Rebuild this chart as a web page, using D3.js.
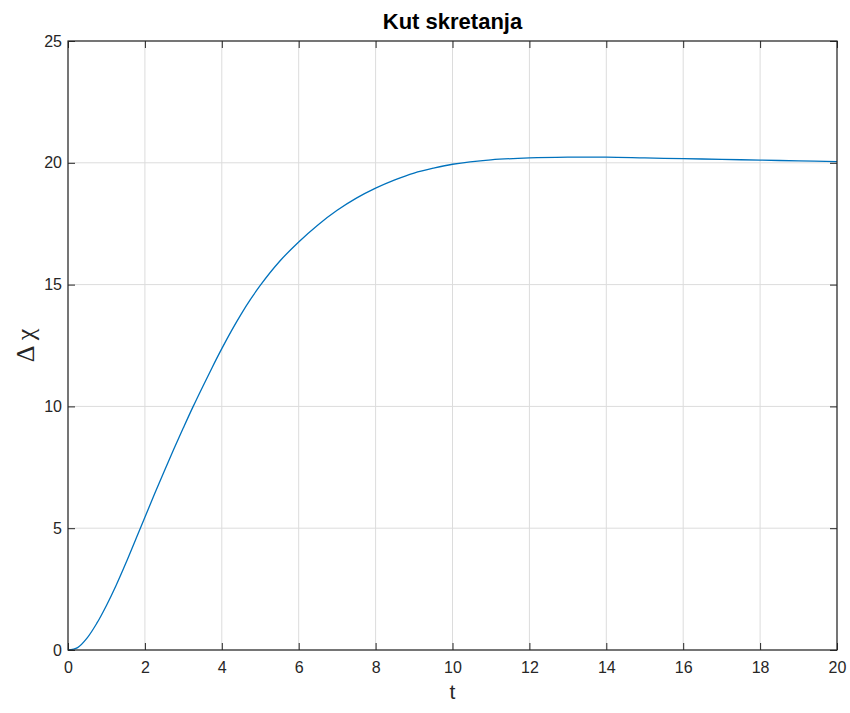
<!DOCTYPE html>
<html><head><meta charset="utf-8">
<script src="https://cdn.jsdelivr.net/npm/d3@7"></script>
<style>body{margin:0;background:#fff}svg{display:block}</style>
</head><body>
<svg id="chart" width="850" height="713"></svg>
<script>
const title = "Kut skretanja";
const xLabel = "t";
const yLabel = "Δ χ";
const xTicks = [0,2,4,6,8,10,12,14,16,18,20];
const yTicks = [0,5,10,15,20,25];
const tValues = [0,0.25,0.5,0.75,1.0,1.25,1.5,1.75,2.0,2.25,2.5,2.75,3.0,3.25,3.5,3.75,4.0,4.25,4.5,4.75,5.0,5.5,6.0,6.5,7.0,7.5,8.0,8.5,9.0,9.5,10,11,12,13,14,15,16,17,18,19,20];
const chiValues = [0,0.1,0.5,1.1,1.83,2.65,3.55,4.5,5.45,6.4,7.33,8.24,9.12,9.98,10.8,11.6,12.37,13.1,13.78,14.4,14.97,15.95,16.75,17.45,18.05,18.55,18.96,19.3,19.58,19.78,19.94,20.12,20.2,20.23,20.23,20.2,20.17,20.14,20.11,20.08,20.05];

const svg = d3.select("#chart");
const L = 68, R = 837, T = 41, B = 650;
const x = d3.scaleLinear().domain([0,20]).range([L,R]);
const y = d3.scaleLinear().domain([0,25]).range([B,T]);
const axisCol = "#262626", gridCol = "#dcdcdc", font = "'Liberation Sans', Arial, sans-serif";

// grid
svg.append("g").selectAll("line").data(xTicks).join("line")
  .attr("x1", d=>x(d)).attr("x2", d=>x(d)).attr("y1", T).attr("y2", B)
  .attr("stroke", gridCol).attr("stroke-width", 1);
svg.append("g").selectAll("line").data(yTicks).join("line")
  .attr("y1", d=>y(d)).attr("y2", d=>y(d)).attr("x1", L).attr("x2", R)
  .attr("stroke", gridCol).attr("stroke-width", 1);

// data line
const data = tValues.map((t,i)=>({t, v: chiValues[i]}));
svg.append("path").datum(data)
  .attr("fill","none").attr("stroke","#0072BD").attr("stroke-width",1.3)
  .attr("d", d3.line().x(d=>x(d.t)).y(d=>y(d.v)).curve(d3.curveCatmullRom.alpha(0.5)));

// axes
function styleAxis(g){
  g.select(".domain").remove();
  g.selectAll(".tick line").attr("stroke", axisCol).attr("stroke-width",1);
  g.selectAll(".tick text").attr("fill", axisCol).attr("font-family", font).attr("font-size", 16);
}
svg.append("g").attr("transform",`translate(0,${B})`)
  .call(d3.axisBottom(x).tickValues(xTicks).tickFormat(d3.format("d")).tickSizeInner(-7).tickSizeOuter(0).tickPadding(12))
  .call(styleAxis);
svg.append("g").attr("transform",`translate(0,${T})`)
  .call(d3.axisTop(x).tickValues(xTicks).tickFormat("").tickSizeInner(-7).tickSizeOuter(0))
  .call(styleAxis);
svg.append("g").attr("transform",`translate(${L},0)`)
  .call(d3.axisLeft(y).tickValues(yTicks).tickFormat(d3.format("d")).tickSizeInner(-7).tickSizeOuter(0).tickPadding(6))
  .call(styleAxis);
svg.append("g").attr("transform",`translate(${R},0)`)
  .call(d3.axisRight(y).tickValues(yTicks).tickFormat("").tickSizeInner(-7).tickSizeOuter(0))
  .call(styleAxis);

// box
svg.append("rect").attr("x",L).attr("y",T).attr("width",R-L).attr("height",B-T)
  .attr("fill","none").attr("stroke",axisCol).attr("stroke-width",1.2);

// title & labels
svg.append("text").attr("x",(L+R)/2).attr("y",29).attr("text-anchor","middle")
  .attr("font-family",font).attr("font-weight","bold").attr("font-size",22).attr("fill","#000").text(title);
svg.append("text").attr("x",(L+R)/2).attr("y",699).attr("text-anchor","middle")
  .attr("font-family",font).attr("font-size",21).attr("fill",axisCol).text(xLabel);
svg.append("text").attr("transform",`translate(34,${(T+B)/2}) rotate(-90)`).attr("text-anchor","middle")
  .attr("font-family","'Liberation Serif','Times New Roman',serif").attr("font-size",26).attr("fill",axisCol).text(yLabel);
</script>
</body></html>
